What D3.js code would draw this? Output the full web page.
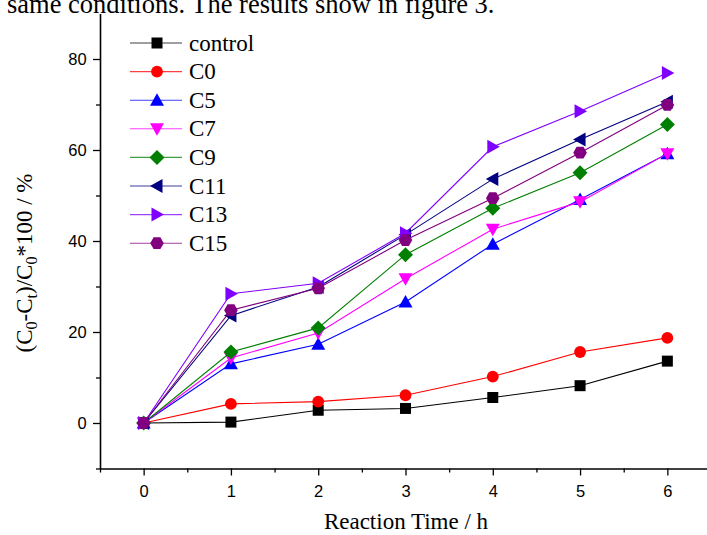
<!DOCTYPE html>
<html>
<head>
<meta charset="utf-8">
<script src="https://cdn.jsdelivr.net/npm/d3@7"></script>
<style>
  html, body { margin: 0; padding: 0; background: #fff; }
  svg { display: block; }
</style>
</head>
<body>
<svg id="chart" width="707" height="535"></svg>
<script>
// Reaction time (h) and removal ratio (%) for each sample
const times = [0, 1, 2, 3, 4, 5, 6];
const seriesNames = ["control", "C0", "C5", "C7", "C9", "C11", "C13", "C15"];
const control = [0, 0.2, 2.8, 3.2, 5.6, 8.2, 13.6];
const c0  = [0, 4.2, 4.7, 6.1, 10.2, 15.6, 18.7];
const c5  = [0, 13.0, 17.3, 26.6, 39.3, 49.1, 59.2];
const c7  = [0, 14.3, 19.8, 31.7, 42.6, 48.6, 59.2];
const c9  = [0, 15.6, 20.9, 37.0, 47.2, 55.0, 65.6];
const c11 = [0, 23.6, 29.9, 41.4, 53.6, 62.3, 70.6];
const c13 = [0, 28.4, 30.7, 41.7, 60.7, 68.5, 76.9];
const c15 = [0, 24.8, 29.6, 40.2, 49.4, 59.4, 69.9];
const xTicks = [0, 1, 2, 3, 4, 5, 6];
const yTicks = [0, 20, 40, 60, 80];

const colors = ["#000000", "#ff0000", "#0000ff", "#ff00ff", "#008000", "#000080", "#8000ff", "#800080"];
const shapes = ["square", "circle", "triUp", "triDown", "diamond", "triLeft", "triRight", "hexagon"];
const values = [control, c0, c5, c7, c9, c11, c13, c15];

const svg = d3.select("#chart");
const serif = "'Liberation Serif', 'Times New Roman', serif";
const sans = "'Liberation Sans', Arial, sans-serif";

// Caption line above the figure (partly cut off at the top)
svg.append("text")
  .attr("x", 7).attr("y", 13)
  .attr("font-family", serif).attr("font-size", 26.5)
  .attr("fill", "#000")
  .text("same conditions. The results show in figure 3.");

const x = d3.scaleLinear().domain([-0.5, 6.5]).range([100, 711]);
const y = d3.scaleLinear().domain([-10, 90]).range([468.5, 13.5]);

// Axes with major and half-step minor ticks
const xAxis = svg.append("g").attr("transform", `translate(0,${y(-10)})`)
  .call(d3.axisBottom(x).tickValues(xTicks).tickFormat(d3.format("d")).tickSize(7).tickSizeOuter(0));
svg.append("g").attr("transform", `translate(0,${y(-10)})`)
  .call(d3.axisBottom(x).tickValues(d3.range(-0.5, 6.6, 1)).tickFormat("").tickSize(4).tickSizeOuter(0))
  .select(".domain").remove();
const yAxis = svg.append("g").attr("transform", `translate(${x(-0.5)},0)`)
  .call(d3.axisLeft(y).tickValues(yTicks).tickSize(7).tickSizeOuter(0));
svg.append("g").attr("transform", `translate(${x(-0.5)},0)`)
  .call(d3.axisLeft(y).tickValues([-10, 10, 30, 50, 70]).tickFormat("").tickSize(4).tickSizeOuter(0))
  .select(".domain").remove();

svg.selectAll(".domain").attr("stroke", "#000").attr("stroke-width", 1.6);
svg.selectAll(".tick line").attr("stroke", "#000").attr("stroke-width", 1.3);
xAxis.selectAll("text").attr("font-family", sans).attr("font-size", 16.5).attr("fill", "#000").attr("dy", "1.1em");
yAxis.selectAll("text").attr("font-family", sans).attr("font-size", 16.5).attr("fill", "#000").attr("dx", "-0.2em");

// Axis titles
svg.append("text")
  .attr("x", 406).attr("y", 529)
  .attr("text-anchor", "middle")
  .attr("font-family", serif).attr("font-size", 23)
  .text("Reaction Time / h");

const yTitle = svg.append("text")
  .attr("transform", "translate(32,263) rotate(-90)")
  .attr("text-anchor", "middle")
  .attr("font-family", serif).attr("font-size", 23);
yTitle.append("tspan").text("(C");
yTitle.append("tspan").attr("font-size", 16).attr("dy", 5).text("0");
yTitle.append("tspan").attr("dy", -5).text("-C");
yTitle.append("tspan").attr("font-size", 16).attr("dy", 5).text("t");
yTitle.append("tspan").attr("dy", -5).text(")/C");
yTitle.append("tspan").attr("font-size", 16).attr("dy", 5).text("0");
yTitle.append("tspan").attr("dy", -5).text("*100 / %");

// Marker path generator
function markerPath(shape) {
  switch (shape) {
    case "square":  return "M-5.5,-5.5H5.5V5.5H-5.5Z";
    case "circle":  return d3.symbol(d3.symbolCircle, 110)();
    case "triUp":   return "M0,-7L7,5.5H-7Z";
    case "triDown": return "M0,7L7,-5.5H-7Z";
    case "diamond": return "M0,-7.5L7.5,0L0,7.5L-7.5,0Z";
    case "triLeft": return "M-7,0L5.5,-7V7Z";
    case "triRight":return "M7,0L-5.5,-7V7Z";
    case "hexagon": {
      const r = 6.8;
      return d3.range(6).map((i, k) => {
        const a = Math.PI / 3 * i + Math.PI / 6;
        return (k ? "L" : "M") + (r * Math.sin(a)).toFixed(2) + "," + (-r * Math.cos(a)).toFixed(2);
      }).join("") + "Z";
    }
  }
}

const line = d3.line().x((d, i) => x(times[i])).y(d => y(d));

values.forEach((vals, s) => {
  const g = svg.append("g");
  g.append("path")
    .attr("d", line(vals))
    .attr("fill", "none")
    .attr("stroke", colors[s])
    .attr("stroke-width", 1.1);
  g.selectAll("path.pt").data(vals).join("path")
    .attr("class", "pt")
    .attr("transform", (d, i) => `translate(${x(times[i])},${y(d)})`)
    .attr("d", markerPath(shapes[s]))
    .attr("fill", colors[s]);
});

// Legend
const legend = svg.append("g");
seriesNames.forEach((name, s) => {
  const ly = 43 + s * 28.6;
  legend.append("line")
    .attr("x1", 130).attr("x2", 182).attr("y1", ly).attr("y2", ly)
    .attr("stroke", colors[s]).attr("stroke-width", 1.1).attr("stroke-opacity", 0.75);
  legend.append("path")
    .attr("transform", `translate(157,${ly})`)
    .attr("d", markerPath(shapes[s]))
    .attr("fill", colors[s]);
  legend.append("text")
    .attr("x", 189).attr("y", ly + 7.5)
    .attr("font-family", serif).attr("font-size", 23)
    .text(name);
});
</script>
</body>
</html>
